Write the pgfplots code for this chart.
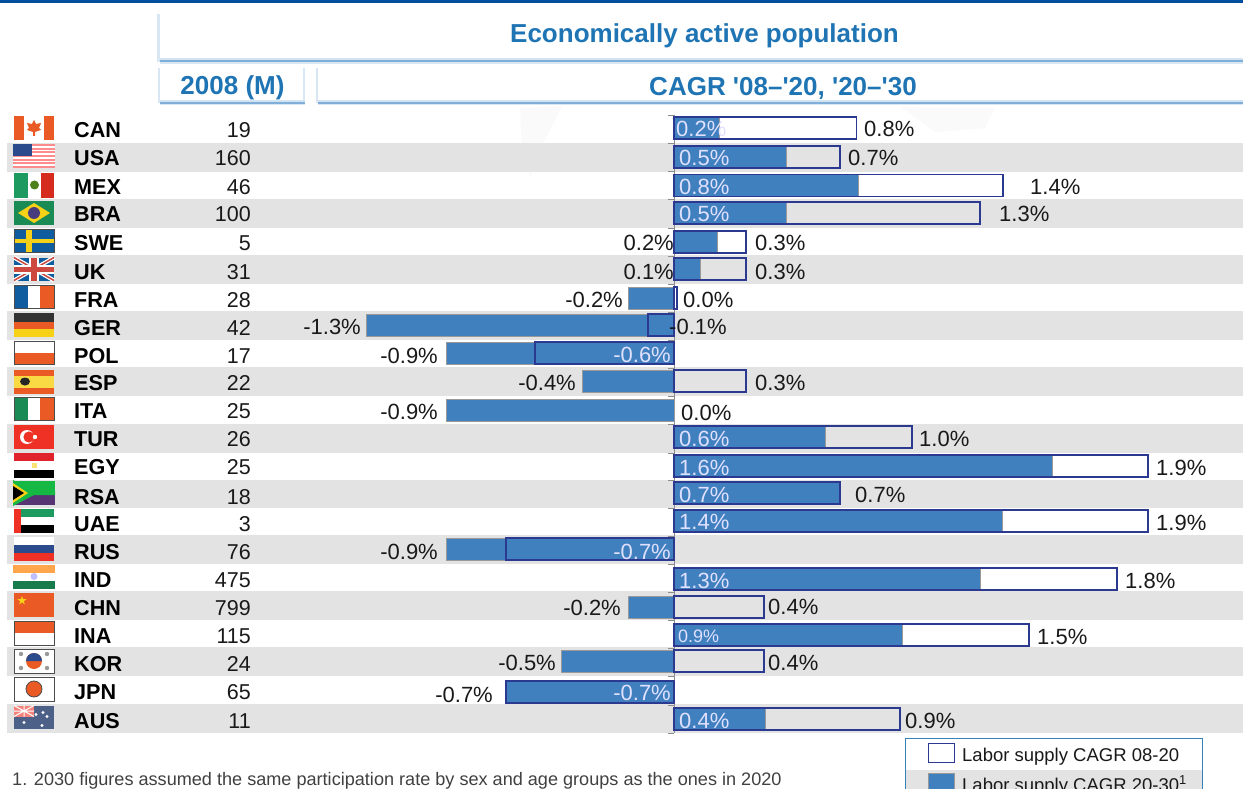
\documentclass[border=0pt]{standalone}
\usepackage{pgfplots}
\usepackage{pgfplotstable}
\usepackage{fontspec}
\setmainfont{Liberation Sans}
\pgfplotsset{compat=1.18}
\definecolor{barblue}{HTML}{4080BF}
\definecolor{navy}{HTML}{2B3990}
\definecolor{band}{HTML}{E3E3E3}
\definecolor{headblue}{HTML}{1F74B4}
\definecolor{topblue}{HTML}{004F9F}
\definecolor{shadowblue}{HTML}{7FAFD8}
\definecolor{fo}{HTML}{EA5A25}
\definecolor{fr}{HTML}{EE3124}
\definecolor{fg}{HTML}{1D9A5F}
\definecolor{fb}{HTML}{0F5C9E}
\definecolor{fy}{HTML}{F7D117}
\definecolor{fn}{HTML}{2B4B8C}
\pgfplotstableread{
y supplyB supplyA
128 0.19 0.76
157 0.47 0.69
185.5 0.77 1.37
213 0.47 1.275
242 0.18 0.30
269 0.11 0.30
298 -0.19 0.012
325 -1.28 -0.11
353 -0.95 -0.58
381 -0.38 0.30
410 -0.95 nan
437 0.63 0.99
466 1.575 1.975
493 0.69 0.69
521 1.37 1.975
549 -0.95 -0.70
579 1.275 1.845
607 -0.19 0.375
635 0.95 1.48
661 -0.47 0.375
692 -0.70 -0.70
719 0.38 0.94
}\rows
\newcommand{\cty}[3]{\node[anchor=base west,inner sep=0pt,font=\fontsize{21.6}{24}\selectfont\bfseries] at (74,#3) {#1};\node[anchor=base east,inner sep=0pt,font=\fontsize{21.5}{24}\selectfont,text=black!90] at (251,#3) {#2};}
\newcommand{\rgl}[3]{\node[anchor=base west,inner sep=0pt,font=\fontsize{22}{24}\selectfont,text=black!90] at (#1,#2+8) {#3};}
\newcommand{\lfl}[3]{\node[anchor=base east,inner sep=0pt,font=\fontsize{22}{24}\selectfont,text=black!90] at (#1,#2+8) {#3};}
\newcommand{\wlab}[3]{\node[anchor=base west,inner sep=0pt,font=\fontsize{22}{24}\selectfont,text=white!88!blue] at (#1,#2+8) {#3};}
\newcommand{\wrab}[3]{\node[anchor=base east,inner sep=0pt,font=\fontsize{22}{24}\selectfont,text=white!88!blue] at (#1,#2+8) {#3};}
\newcommand{\R}[5]{\fill[#1] (#2,#3) rectangle (#4,#5);}
\newenvironment{flag}[1]{\begin{scope}[shift={(14,#1)}]}{\end{scope}}
\begin{document}
\begin{tikzpicture}
\path[use as bounding box] (0,0) rectangle (1243pt,-789pt);
\clip (0,0) rectangle (1243pt,-789pt);
\begin{scope}[x=1pt,y=-1pt]
% top line
\fill[topblue] (0,0) rectangle (1243,3);
% header boxes
\fill[shadowblue!30] (157,14) rectangle (160,62);
\fill[shadowblue!35] (160,58.5) rectangle (1243,60.5);
\fill[shadowblue] (160,60.5) rectangle (1243,62.5);
\fill[shadowblue!30] (160,62.5) rectangle (1243,64);
\fill[shadowblue!30] (158,68) rectangle (160,103);
\fill[shadowblue!30] (303,68) rectangle (305,103);
\fill[shadowblue!35] (160,100) rectangle (305,102);
\fill[shadowblue] (160,102) rectangle (305,104);
\fill[shadowblue!30] (160,104) rectangle (305,105.5);
\fill[shadowblue!30] (316,68) rectangle (318,103);
\fill[shadowblue!35] (318,100) rectangle (1243,102);
\fill[shadowblue] (318,102) rectangle (1243,104);
\fill[shadowblue!30] (318,104) rectangle (1243,105.5);
\node[font=\fontsize{26}{28}\selectfont\bfseries,text=headblue] at (704.5,36) {Economically active population};
\node[font=\fontsize{26}{28}\selectfont\bfseries,text=headblue] at (232.5,88) {2008 (M)};
\node[font=\fontsize{26}{28}\selectfont\bfseries,text=headblue] at (783,88) {CAGR \textquotesingle 08--\textquotesingle 20, \textquotesingle 20--\textquotesingle 30};
% faint world map
\fill[black!2] (520,108) -- (562,106) -- (545,140) -- (530,178) -- (522,150) -- cycle;
\fill[black!2] (900,107) -- (995,108) -- (985,128) -- (935,132) -- cycle;
% bands
\foreach \a/\b in {143/172,199/228,255/284,311/340,367/396,424/453,480/508,535/564,591/620,647/676,704/733}{
  \fill[band] (7,\a) rectangle (1243,\b);}
% flags
\begin{flag}{116}\R{fo}{0}{0}{10}{24}\R{fo}{30}{0}{40}{24}\R{white}{10}{0}{30}{24}
 \fill[fo] (20,4) -- (22,8) -- (27,7) -- (25,12) -- (27,14) -- (21,16) -- (21,20) -- (19,20) -- (19,16) -- (13,14) -- (15,12) -- (13,7) -- (18,8) -- cycle;\end{flag}
\begin{flag}{144}\R{white}{-1}{0}{41}{24}\foreach \i in {0,2,...,12}{\R{red!45!white}{-1}{\i*1.85}{41}{\i*1.85+1.85}}\R{fn}{-1}{0}{18}{12}\end{flag}
\begin{flag}{173}\R{fg}{0}{0}{14}{25}\R{white}{14}{0}{27}{25}\R{fr!90!black}{27}{0}{40}{25}\fill[black!50!green!60!brown] (20.5,12) circle (4.5);\end{flag}
\begin{flag}{201}\R{fg!90!black}{0}{0}{40}{24}\fill[fy] (4,12) -- (20,2) -- (36,12) -- (20,22) -- cycle;\fill[fn!80!purple] (20,12) circle (6);\end{flag}
\begin{flag}{229.5}\R{fb}{0}{0}{40}{23}\R{fy}{12}{0}{18}{23}\R{fy}{0}{9}{40}{13.5}\draw[black!70,line width=.8pt] (0,0) rectangle (40,23);\end{flag}
\begin{flag}{257.5}\R{fb}{0}{0}{40}{23}\draw[white,line width=4pt] (0,0) -- (40,23) (40,0) -- (0,23);\draw[fr!70!gray,line width=1.5pt] (0,0) -- (40,23) (40,0) -- (0,23);\R{white}{15}{0}{25}{23}\R{white}{0}{7}{40}{16}\R{fr!70!gray}{17}{0}{23}{23}\R{fr!70!gray}{0}{9}{40}{14}\end{flag}
\begin{flag}{285.5}\R{fb}{0}{0}{14}{23}\R{white}{14}{0}{26}{23}\R{fo}{26}{0}{40}{23}\draw[black!70,line width=.8pt] (0,0) rectangle (40,23);\end{flag}
\begin{flag}{313}\R{black!80}{0}{0}{40}{8.5}\R{fo}{0}{8.5}{40}{16}\R{fy}{0}{16}{40}{24}\end{flag}
\begin{flag}{341.5}\R{white}{0}{0}{40}{11}\R{fo}{0}{11}{40}{23}\draw[black!70,line width=.8pt] (0,0) rectangle (40,23);\end{flag}
\begin{flag}{369.5}\R{fo}{0}{0}{40}{24}\R{fy!80!white}{0}{6}{40}{18}\fill[black!85] (11,12) ellipse (5 and 4);\end{flag}
\begin{flag}{397.5}\R{fg!90!black}{0}{0}{14}{23}\R{white}{14}{0}{26}{23}\R{fo}{26}{0}{40}{23}\draw[black!70,line width=.8pt] (0,0) rectangle (40,23);\end{flag}
\begin{flag}{425}\R{fr}{0}{0}{40}{24}\fill[white] (13,12) circle (7);\fill[fr] (15,12) circle (5.6);\fill[white] (21,12) circle (2.2);\end{flag}
\begin{flag}{453}\R{fr!70!purple}{0}{0}{40}{8}\R{white}{0}{8}{40}{17}\R{black}{0}{17}{40}{25}\fill[fy!60!white] (18,10) rectangle (23,15);\end{flag}
\begin{flag}{481}\R{fg!70!green}{-1}{0}{41}{11}\R{fn!70!purple}{-1}{13}{41}{24}\R{white}{-1}{10}{41}{14}\fill[fg!70!green] (-1,-1) -- (20,10) -- (41,10) -- (41,14) -- (20,14) -- (-1,25) -- cycle;\fill[fy] (-1,2) -- (14,12) -- (-1,22) -- cycle;\fill[black] (-1,5) -- (10,12) -- (-1,19) -- cycle;\end{flag}
\begin{flag}{509}\R{fg}{6}{0}{40}{8}\R{white}{6}{8}{40}{16}\R{black}{6}{16}{40}{24}\R{fr}{0}{0}{7}{24}\end{flag}
\begin{flag}{537}\R{white}{0}{0}{40}{8}\R{fn}{0}{8}{40}{16}\R{fr}{0}{16}{40}{24}\end{flag}
\begin{flag}{564.5}\R{orange!70!white}{-1}{0}{41}{8}\R{white}{-1}{8}{41}{16}\R{fg!80!black}{-1}{16}{41}{24}\fill[blue!25!white] (20,12) circle (3.5);\end{flag}
\begin{flag}{593}\R{fo}{0}{0}{40}{24}\fill[fy] (8,3) -- (9.2,6.2) -- (12.5,6.2) -- (9.8,8.2) -- (10.8,11.3) -- (8,9.4) -- (5.2,11.3) -- (6.2,8.2) -- (3.5,6.2) -- (6.8,6.2) -- cycle;\end{flag}
\begin{flag}{621}\R{fo}{0}{0}{40}{12}\R{white}{0}{12}{40}{24}\draw[black!70,line width=.8pt] (0,0) rectangle (40,24);\end{flag}
\begin{flag}{649}\R{white}{0}{0}{40}{24}\fill[fo] (20,12) circle (8);\fill[fn] (12,12) arc (180:360:8) -- cycle;\foreach \x/\y in {7/5,33/5,7/19,33/19}{\fill[black!40] (\x,\y) circle (2.2);}\draw[black!70,line width=.8pt] (0,0) rectangle (40,24);\end{flag}
\begin{flag}{677}\R{white}{0}{0}{40}{24}\fill[fo] (20,12) circle (8);\draw[black!70,line width=.8pt] (20,12) circle (8);\draw[black!70,line width=.8pt] (0,0) rectangle (40,24);\end{flag}
\begin{flag}{705.5}\R{fn!60!gray}{0}{0}{40}{23}\R{fr!60!white}{0}{0}{20}{11}\draw[white,line width=1pt] (0,0) -- (20,11) (20,0) -- (0,11) (10,0) -- (10,11) (0,5.5) -- (20,5.5);\foreach \x/\y in {10/17,29/7,33/11,22/9,28/20}{\fill[white] (\x,\y) circle (1.6);}\end{flag}
% zero line and ticks
\draw[black!45,line width=.9pt] (674,115) -- (674,733);
\foreach \t in {115,143,171,199,228,256,284,312,340,368,396,424,453,480,508,536,564,592,620,648,676,705,733}{
 \draw[black!45,line width=.8pt] (668,\t) -- (674,\t);}
\end{scope}
\begin{axis}[at={(0pt,0pt)},anchor=north west,scale only axis,width=1243pt,height=789pt,
 xmin=-2.80833,xmax=2.37083,ymin=0,ymax=789,y dir=reverse,hide axis,
 xbar,bar shift=0pt,bar width=22pt]
\addplot[draw=black!40,fill=barblue,line width=.9pt] table[x=supplyB,y=y]{\rows};
\addplot[draw=navy,fill=none,line width=1.8pt] table[x=supplyA,y=y]{\rows};
\end{axis}
\begin{scope}[x=1pt,y=-1pt]
\cty{CAN}{19}{138}\cty{USA}{160}{166}\cty{MEX}{46}{194}\cty{BRA}{100}{222}\cty{SWE}{5}{250}\cty{UK}{31}{279}\cty{FRA}{28}{307}\cty{GER}{42}{335}\cty{POL}{17}{363}\cty{ESP}{22}{390}\cty{ITA}{25}{418}\cty{TUR}{26}{446}\cty{EGY}{25}{474}\cty{RSA}{18}{504}\cty{UAE}{3}{531}\cty{RUS}{76}{559}\cty{IND}{475}{587}\cty{CHN}{799}{615}\cty{INA}{115}{643}\cty{KOR}{24}{671}\cty{JPN}{65}{699}\cty{AUS}{11}{728}
\rgl{864}{129}{0.8\%}\rgl{848}{158}{0.7\%}\rgl{1030}{187}{1.4\%}\rgl{999}{214}{1.3\%}\rgl{755}{243}{0.3\%}\rgl{755}{271}{0.3\%}\rgl{683}{299}{0.0\%}\rgl{669}{326}{-0.1\%}\rgl{755}{382}{0.3\%}\rgl{681}{412}{0.0\%}\rgl{919}{438}{1.0\%}\rgl{1156}{467}{1.9\%}\rgl{855}{494}{0.7\%}\rgl{1156}{522}{1.9\%}\rgl{1125}{580}{1.8\%}\rgl{768}{606}{0.4\%}\rgl{1037}{636}{1.5\%}\rgl{768}{662}{0.4\%}\rgl{905}{720}{0.9\%}
\lfl{674}{243}{0.2\%}\lfl{674}{271}{0.1\%}\lfl{623}{299}{-0.2\%}\lfl{361}{326}{-1.3\%}\lfl{438}{355}{-0.9\%}\lfl{576}{382}{-0.4\%}\lfl{438}{411}{-0.9\%}\lfl{438}{551}{-0.9\%}\lfl{621}{607}{-0.2\%}\lfl{556}{662}{-0.5\%}\lfl{493}{694}{-0.7\%}
\wlab{676}{129}{0.2\%}\wlab{679}{158}{0.5\%}\wlab{679}{187}{0.8\%}\wlab{679}{214}{0.5\%}\wlab{679}{438}{0.6\%}\wlab{679}{467}{1.6\%}\wlab{679}{494}{0.7\%}\wlab{679}{521}{1.4\%}\wlab{679}{580}{1.3\%}\wlab{679}{720}{0.4\%}
\node[anchor=base west,inner sep=0pt,font=\fontsize{18}{20}\selectfont,text=white!88!blue] at (678,642) {0.9\%};
\wrab{671}{354}{-0.6\%}\wrab{671}{551}{-0.7\%}\wrab{671}{692}{-0.7\%}
% footnote
\node[anchor=base west,inner sep=0pt,font=\fontsize{18.1}{22}\selectfont,text=black!75] at (12,785) {1. 2030 figures assumed the same participation rate by sex and age groups as the ones in 2020};
% legend
\fill[white] (905,738.5) rectangle (1202,795);
\fill[band] (905,770) rectangle (1202,795);
\draw[headblue!90,line width=1pt] (905,738.5) rectangle (1202,795);
\draw[navy,fill=white,line width=1pt] (928,743) rectangle (954.5,762);
\draw[black!40,fill=barblue,line width=1pt] (928,773) rectangle (954.5,800);
\node[anchor=base west,inner sep=0pt,font=\fontsize{18.5}{20}\selectfont,text=black!90] at (962,761) {Labor supply CAGR 08-20};
\node[anchor=base west,inner sep=0pt,font=\fontsize{18.5}{20}\selectfont,text=black!90] at (962,791) {Labor supply CAGR 20-30\textsuperscript{1}};
\end{scope}
\end{tikzpicture}
\end{document}
